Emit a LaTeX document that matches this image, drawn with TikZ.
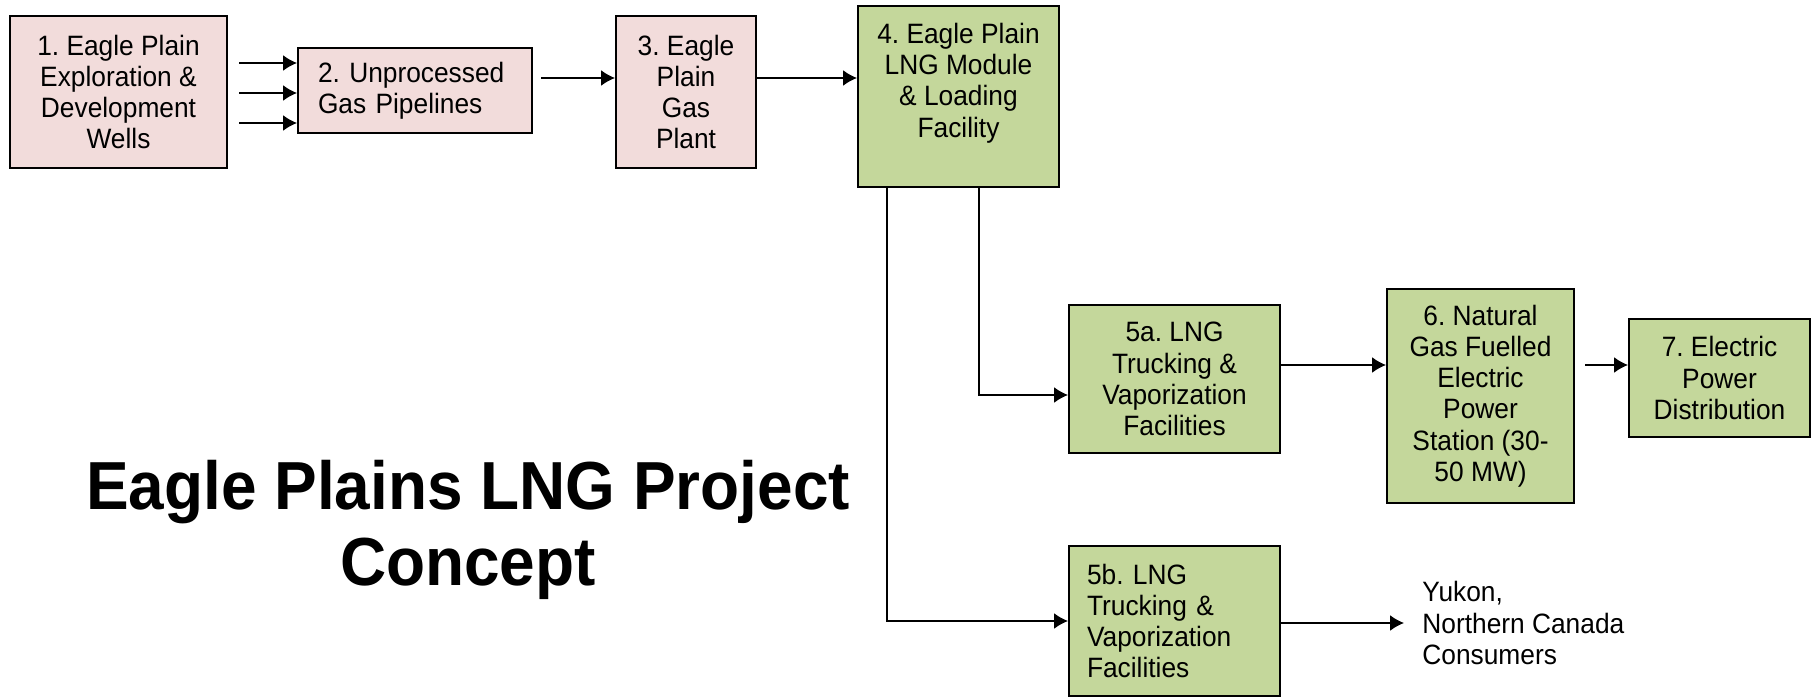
\documentclass[tikz,border=0pt]{standalone}
\usepackage{fontspec}
\setmainfont{Liberation Sans}[FakeStretch=0.94]
\usepackage{xcolor}
\usetikzlibrary{arrows.meta}
\frenchspacing

\definecolor{wellpink}{HTML}{F2DCDB}
\definecolor{lnggreen}{HTML}{C4D79B}

\tikzset{
  stagebox/.style={draw, line width=1pt, align=center, inner sep=3pt},
  pinkbox/.style={stagebox, fill=wellpink},
  greenbox/.style={stagebox, fill=lnggreen},
  flow/.style={line width=0.85pt, -{Latex[length=7pt,width=8pt]}},
}

\begin{document}
\begin{tikzpicture}[x=0.5pt, y=0.5pt, font=\fontsize{14}{15.6}\selectfont]
    \useasboundingbox (0,0) rectangle (1818,697);
    \coordinate (c1) at (118.5, 605);
    \coordinate (c2) at (415, 606.5);
    \coordinate (c3) at (686, 605);
    \coordinate (c4) at (958.5, 600.5);
    \coordinate (c5a) at (1174.5, 318);
    \coordinate (c5b) at (1174.5, 76);
    \coordinate (c6) at (1480.5, 301);
    \coordinate (c7) at (1719.5, 319);
    \node[pinkbox, minimum width=108.5pt, minimum height=76pt] (s1) at (c1) {1. Eagle Plain\\Exploration \&\\Development\\Wells};
    \node[pinkbox, text width=97pt, inner xsep=10pt, align=left, minimum height=42.5pt] (s2) at (c2) {2. Unprocessed\\Gas Pipelines};
    \node[pinkbox, minimum width=70pt, minimum height=76pt] (s3) at (c3) {3. Eagle\\Plain\\Gas\\Plant};
    \node[greenbox, minimum width=100.5pt, minimum height=90.5pt] (s4) at (c4) {};
    \node[anchor=north, align=center] (s4t) at ([yshift=-5.6pt]s4.north) {4. Eagle Plain\\LNG Module\\\& Loading\\Facility};
    \node[greenbox, minimum width=105.5pt, minimum height=74pt] (s5a) at (c5a) {5a. LNG\\Trucking \&\\Vaporization\\Facilities};
    \node[greenbox, text width=87.5pt, inner xsep=9pt, align=left, minimum height=75pt] (s5b) at (c5b) {5b. LNG\\Trucking \&\\Vaporization\\Facilities};
    \node[greenbox, minimum width=93.5pt, minimum height=107pt] (s6) at (c6) {6. Natural\\Gas Fuelled\\Electric\\Power\\Station (30-\\50 MW)};
    \node[greenbox, minimum width=90.5pt, minimum height=59pt] (s7) at (c7) {7. Electric\\Power\\Distribution};
    \node[anchor=west, align=left, inner xsep=9pt] (users) at (1404, 74) {Yukon,\\Northern Canada\\Consumers};
    \node[font=\fontsize{34}{37.7}\selectfont\bfseries, align=center] (title) at (468, 167) {Eagle Plains LNG Project\\Concept};
    % wells feed the pipelines
    \foreach \dy in {14.5,-0.5,-15.5}
      \draw[flow] ([xshift=5.5pt, yshift=\dy pt]s1.east) -- ([yshift=\dy pt]s1.east -| s2.west);
    \draw[flow] ([xshift=4pt, yshift=6.25pt]s2.east) -- ([yshift=6.25pt]s2.east -| s3.west);
    \draw[flow] ([yshift=7pt]s3.east) -- ([yshift=7pt]s3.east -| s4.west);
    % two trucking branches
    \draw[flow] ([xshift=15pt]s4.south west) |- (s5b.west);
    \draw[flow] ([xshift=61pt]s4.south west) |- ([yshift=-8pt]s5a.west);
    \draw[flow] ([yshift=7pt]s5a.east) -- ([yshift=7pt]s5a.east -| s6.west);
    \draw[flow] ([xshift=5pt, yshift=15.5pt]s6.east) -- ([yshift=15.5pt]s6.east -| s7.west);
    \draw[flow] (s5b.east |- users.west) -- (users.west);
  \end{tikzpicture}
\end{document}
